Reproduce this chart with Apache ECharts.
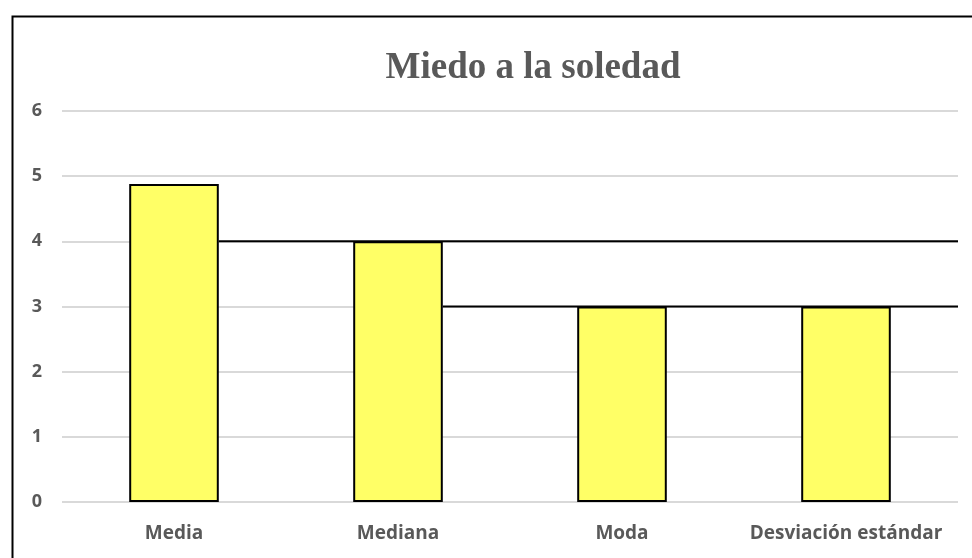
<!DOCTYPE html>
<html>
<head>
<meta charset="utf-8">
<script src="https://cdn.jsdelivr.net/npm/echarts@6/dist/echarts.min.js"></script>
<style>
html,body{margin:0;padding:0;background:#fff;}
#chart{width:972px;height:558px;}
</style>
</head>
<body>
<div id="chart"></div>
<script>
const titleText = 'Miedo a la soledad';
const categories = ['Media', 'Mediana', 'Moda', 'Desviación estándar'];
const values = [4.88, 4, 3, 3];
const yTicks = [0, 1, 2, 3, 4, 5, 6];
// black reference lines: [start category index, y value]
const refLines = [[0, 4], [1, 3]];

const chart = echarts.init(document.getElementById('chart'), null, {renderer: 'canvas'});
chart.setOption({
  animation: false,
  backgroundColor: '#ffffff',
  title: {
    text: titleText,
    left: 528, top: 45, textAlign: 'center',
    textStyle: {fontFamily: '"Liberation Serif", "Times New Roman", serif', fontWeight: 'bold', fontSize: 37, color: '#595959'}
  },
  graphic: [{
    type: 'rect', left: 10, top: 14, silent: true, z: -1,
    shape: {x: 0, y: 0, width: 1000, height: 600},
    style: {fill: 'none', stroke: '#000', lineWidth: 2}
  }],
  grid: {left: 62, right: 14, top: 111, bottom: 56},
  xAxis: {
    type: 'category', data: categories,
    axisLine: {show: false}, axisTick: {show: false},
    axisLabel: {interval: 0, hideOverlap: false, margin: 22, color: '#595959', fontWeight: 'bold', fontSize: 19, fontFamily: '"Open Sans", "Liberation Sans", sans-serif'}
  },
  yAxis: {
    type: 'value', min: yTicks[0], max: yTicks[yTicks.length - 1], interval: 1,
    axisLine: {show: false}, axisTick: {show: false},
    axisLabel: {margin: 20, color: '#595959', fontWeight: 'bold', fontSize: 18, fontFamily: '"Open Sans", "Liberation Sans", sans-serif'},
    splitLine: {lineStyle: {color: '#d9d9d9', width: 2}}
  },
  series: [{
    type: 'bar', data: values, barWidth: '40%',
    itemStyle: {color: '#FFFF66', borderColor: '#000', borderWidth: 2}
  }, {
    type: 'custom', data: refLines, z: 3,
    renderItem: function (params, api) {
      const p = api.coord([api.value(0), api.value(1)]);
      const band = api.size([1, 0])[0];
      const x0 = p[0] + band * 0.2;
      const x1 = params.coordSys.x + params.coordSys.width;
      return {type: 'line', shape: {x1: x0, y1: p[1], x2: x1, y2: p[1]}, style: {stroke: '#000', lineWidth: 2}};
    }
  }]
});
</script>
</body>
</html>
